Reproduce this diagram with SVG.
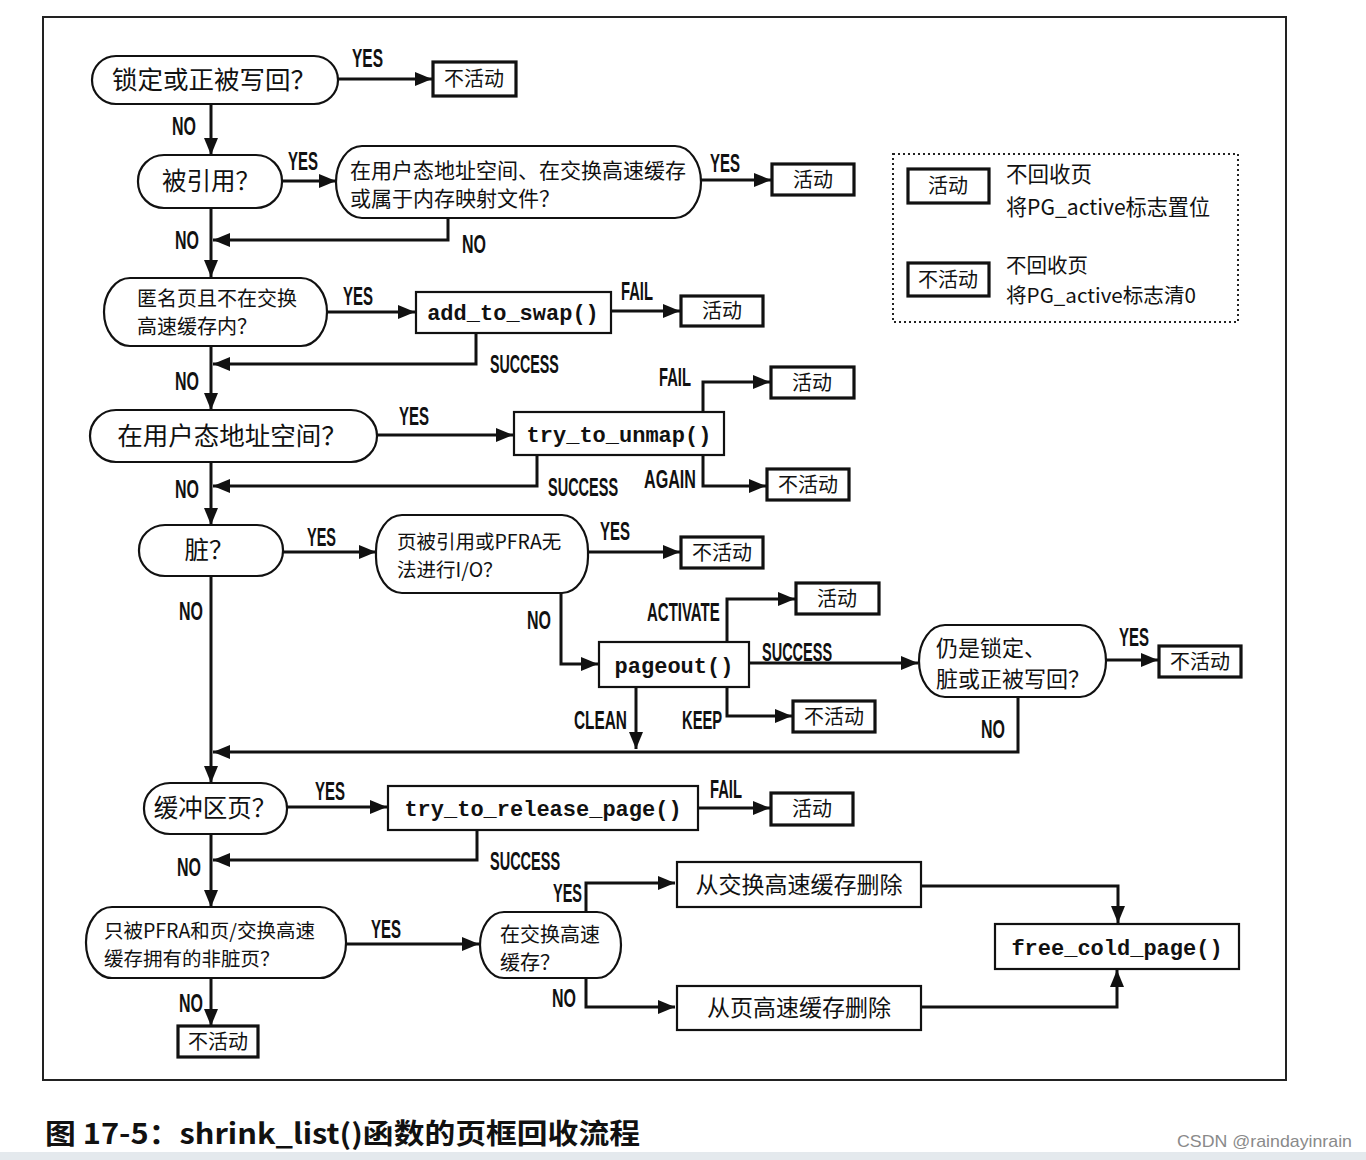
<svg xmlns="http://www.w3.org/2000/svg" width="1366" height="1160" viewBox="0 0 1366 1160">
<defs>
<marker id="ah" markerUnits="userSpaceOnUse" markerWidth="18" markerHeight="14" refX="17" refY="7" orient="auto">
<path d="M0,0 L17,7 L0,14 z" fill="#111"/>
</marker>
<style>
.st{fill:#fff;stroke:#111;stroke-width:2.2}
.cb{fill:#fff;stroke:#111;stroke-width:2.2}
.rb{fill:#fff;stroke:#111;stroke-width:3.2}
.c{fill:none;stroke:#111;stroke-width:3}
.a{marker-end:url(#ah)}
.zh{font-family:"Noto Sans CJK SC","Liberation Sans",sans-serif;fill:#111}
.z24{font-size:24.5px}
.z20{font-size:20px}
.z22{font-size:22px}
.m{font-family:"Liberation Mono","DejaVu Sans Mono",monospace;font-weight:bold;font-size:22px;fill:#111;text-anchor:middle}
.lb{font-family:"Liberation Sans",Arial,sans-serif;font-weight:bold;font-size:25px;fill:#111}
.mid{text-anchor:middle}
</style>
</defs>
<rect width="1366" height="1160" fill="#fff"/>
<rect x="43" y="17" width="1243" height="1063" fill="none" stroke="#222" stroke-width="2"/>

<g id="connectors">
<line class="c a" x1="338" y1="79" x2="432" y2="79"/>
<line class="c a" x1="211" y1="104" x2="211" y2="155"/>
<line class="c a" x1="282" y1="181" x2="336" y2="181"/>
<line class="c a" x1="701" y1="180" x2="771" y2="180"/>
<path class="c a" d="M448,218 V240 H213"/>
<line class="c a" x1="211" y1="208" x2="211" y2="277"/>
<line class="c a" x1="327" y1="312" x2="415" y2="312"/>
<line class="c a" x1="611" y1="311" x2="680" y2="311"/>
<path class="c a" d="M476,333 V364 H213"/>
<line class="c a" x1="211" y1="346" x2="211" y2="410"/>
<line class="c a" x1="377" y1="435" x2="513" y2="435"/>
<path class="c a" d="M703,412 V382 H770"/>
<path class="c a" d="M703,455 V486 H766"/>
<path class="c a" d="M537,455 V486 H213"/>
<line class="c a" x1="211" y1="462" x2="211" y2="525"/>
<line class="c a" x1="283" y1="552" x2="376" y2="552"/>
<line class="c a" x1="588" y1="552" x2="680" y2="552"/>
<path class="c a" d="M561,593 V664 H598"/>
<path class="c a" d="M727,642 V599 H795"/>
<line class="c a" x1="749" y1="663" x2="918" y2="663"/>
<line class="c a" x1="1106" y1="660" x2="1158" y2="660"/>
<path class="c a" d="M727,687 V716 H792"/>
<line class="c a" x1="636" y1="687" x2="636" y2="749"/>
<path class="c a" d="M1018,697 V752 H213"/>
<line class="c a" x1="211" y1="576" x2="211" y2="783"/>
<line class="c a" x1="287" y1="807" x2="387" y2="807"/>
<line class="c a" x1="698" y1="808" x2="770" y2="808"/>
<path class="c a" d="M477,830 V860 H213"/>
<line class="c a" x1="211" y1="834" x2="211" y2="907"/>
<line class="c a" x1="346" y1="944" x2="479" y2="944"/>
<path class="c a" d="M586,912 V883 H675"/>
<path class="c a" d="M586,978 V1007 H675"/>
<path class="c a" d="M921,886 H1118 V923"/>
<path class="c a" d="M921,1007 H1117 V970"/>
<line class="c a" x1="211" y1="978" x2="211" y2="1026"/>
</g>

<g id="labels">
<text class="lb" transform="translate(352,67) scale(0.62,1)">YES</text>
<text class="lb" transform="translate(172,135) scale(0.64,1)">NO</text>
<text class="lb" transform="translate(288,170) scale(0.6,1)">YES</text>
<text class="lb" transform="translate(710,172) scale(0.6,1)">YES</text>
<text class="lb" transform="translate(462,253) scale(0.64,1)">NO</text>
<text class="lb" transform="translate(175,249) scale(0.64,1)">NO</text>
<text class="lb" transform="translate(343,305) scale(0.6,1)">YES</text>
<text class="lb" transform="translate(621,300) scale(0.59,1)">FAIL</text>
<text class="lb" transform="translate(490,373) scale(0.57,1)">SUCCESS</text>
<text class="lb" transform="translate(175,390) scale(0.64,1)">NO</text>
<text class="lb" transform="translate(399,425) scale(0.6,1)">YES</text>
<text class="lb" transform="translate(659,386) scale(0.59,1)">FAIL</text>
<text class="lb" transform="translate(644,488) scale(0.645,1)">AGAIN</text>
<text class="lb" transform="translate(548,496) scale(0.58,1)">SUCCESS</text>
<text class="lb" transform="translate(175,498) scale(0.64,1)">NO</text>
<text class="lb" transform="translate(307,546) scale(0.58,1)">YES</text>
<text class="lb" transform="translate(600,540) scale(0.6,1)">YES</text>
<text class="lb" transform="translate(179,620) scale(0.64,1)">NO</text>
<text class="lb" transform="translate(527,629) scale(0.64,1)">NO</text>
<text class="lb" transform="translate(647,621) scale(0.6,1)">ACTIVATE</text>
<text class="lb" transform="translate(762,661) scale(0.58,1)">SUCCESS</text>
<text class="lb" transform="translate(1119,646) scale(0.6,1)">YES</text>
<text class="lb" transform="translate(574,729) scale(0.615,1)">CLEAN</text>
<text class="lb" transform="translate(682,729) scale(0.59,1)">KEEP</text>
<text class="lb" transform="translate(981,738) scale(0.64,1)">NO</text>
<text class="lb" transform="translate(315,800) scale(0.6,1)">YES</text>
<text class="lb" transform="translate(710,798) scale(0.59,1)">FAIL</text>
<text class="lb" transform="translate(490,870) scale(0.58,1)">SUCCESS</text>
<text class="lb" transform="translate(177,876) scale(0.64,1)">NO</text>
<text class="lb" transform="translate(371,938) scale(0.6,1)">YES</text>
<text class="lb" transform="translate(553,902) scale(0.58,1)">YES</text>
<text class="lb" transform="translate(552,1007) scale(0.64,1)">NO</text>
<text class="lb" transform="translate(179,1012) scale(0.64,1)">NO</text>
</g>

<g id="n-locked">
<rect class="st" x="92" y="56" width="246" height="48" rx="24" ry="24"/>
<text class="zh mid" font-size="25.5" x="214" y="89">锁定或正被写回？</text>
</g>
<g id="r-inactive1">
<rect class="rb" x="433" y="62" width="83" height="34"/>
<text class="zh z20 mid" x="474" y="86">不活动</text>
</g>
<g id="n-referenced">
<rect class="st" x="138" y="155" width="144" height="53" rx="26" ry="26"/>
<text class="zh z24 mid" x="211" y="190">被引用？</text>
</g>
<g id="n-useraddr">
<rect class="st" x="336" y="146" width="365" height="72" rx="26" ry="36"/>
<text class="zh" font-size="21" x="350" y="178">在用户态地址空间、在交换高速缓存</text>
<text class="zh" font-size="21" x="350" y="206">或属于内存映射文件？</text>
</g>
<g id="r-active1">
<rect class="rb" x="772" y="164" width="82" height="31"/>
<text class="zh z20 mid" x="813" y="187">活动</text>
</g>
<g id="n-anon">
<rect class="st" x="104" y="278" width="223" height="68" rx="26" ry="34"/>
<text class="zh z20" x="137" y="306">匿名页且不在交换</text>
<text class="zh z20" x="137" y="334">高速缓存内？</text>
</g>
<g id="n-addswap">
<rect class="cb" x="416" y="292" width="195" height="41"/>
<text class="m" x="513" y="320">add_to_swap()</text>
</g>
<g id="r-active2">
<rect class="rb" x="681" y="296" width="82" height="30"/>
<text class="zh z20 mid" x="722" y="318">活动</text>
</g>
<g id="n-inuser">
<rect class="st" x="90" y="410" width="287" height="52" rx="26" ry="26"/>
<text class="zh mid" font-size="25.5" x="232" y="445">在用户态地址空间？</text>
</g>
<g id="n-unmap">
<rect class="cb" x="514" y="412" width="210" height="43"/>
<text class="m" x="619" y="442">try_to_unmap()</text>
</g>
<g id="r-active3">
<rect class="rb" x="771" y="367" width="83" height="31"/>
<text class="zh z20 mid" x="812" y="390">活动</text>
</g>
<g id="r-inactive2">
<rect class="rb" x="767" y="469" width="82" height="31"/>
<text class="zh z20 mid" x="808" y="492">不活动</text>
</g>
<g id="n-dirty">
<rect class="st" x="139" y="525" width="144" height="51" rx="26" ry="25"/>
<text class="zh z24 mid" x="209" y="559">脏？</text>
</g>
<g id="n-pfra">
<rect class="st" x="376" y="515" width="212" height="78" rx="26" ry="36"/>
<text class="zh" font-size="19.5" x="397" y="549">页被引用或PFRA无</text>
<text class="zh" font-size="19.5" x="397" y="577">法进行I/O？</text>
</g>
<g id="r-inactive3">
<rect class="rb" x="681" y="537" width="82" height="31"/>
<text class="zh z20 mid" x="722" y="560">不活动</text>
</g>
<g id="n-pageout">
<rect class="cb" x="599" y="642" width="150" height="45"/>
<text class="m" x="674" y="673">pageout()</text>
</g>
<g id="r-active4">
<rect class="rb" x="796" y="583" width="83" height="31"/>
<text class="zh z20 mid" x="837" y="606">活动</text>
</g>
<g id="r-inactive4">
<rect class="rb" x="793" y="701" width="82" height="31"/>
<text class="zh z20 mid" x="834" y="724">不活动</text>
</g>
<g id="n-still">
<rect class="st" x="919" y="625" width="187" height="72" rx="26" ry="36"/>
<text class="zh z22" x="936" y="656">仍是锁定、</text>
<text class="zh z22" x="936" y="687">脏或正被写回？</text>
</g>
<g id="r-inactive5">
<rect class="rb" x="1159" y="646" width="82" height="31"/>
<text class="zh z20 mid" x="1200" y="669">不活动</text>
</g>
<g id="n-buffer">
<rect class="st" x="144" y="783" width="143" height="51" rx="26" ry="25"/>
<text class="zh z24 mid" x="215" y="817">缓冲区页？</text>
</g>
<g id="n-release">
<rect class="cb" x="388" y="786" width="310" height="44"/>
<text class="m" x="543" y="816">try_to_release_page()</text>
</g>
<g id="r-active5">
<rect class="rb" x="771" y="793" width="82" height="32"/>
<text class="zh z20 mid" x="812" y="816">活动</text>
</g>
<g id="n-onlypfra">
<rect class="st" x="86" y="907" width="260" height="71" rx="26" ry="35"/>
<text class="zh" font-size="19.5" x="104" y="938">只被PFRA和页/交换高速</text>
<text class="zh" font-size="19.5" x="104" y="966">缓存拥有的非脏页？</text>
</g>
<g id="n-inswap">
<rect class="st" x="480" y="912" width="141" height="66" rx="24" ry="33"/>
<text class="zh z20" x="500" y="942">在交换高速</text>
<text class="zh z20" x="500" y="970">缓存？</text>
</g>
<g id="n-delswap">
<rect class="cb" x="677" y="862" width="244" height="45"/>
<text class="zh mid" font-size="23" x="799" y="893">从交换高速缓存删除</text>
</g>
<g id="n-delpage">
<rect class="cb" x="677" y="986" width="244" height="44"/>
<text class="zh mid" font-size="23" x="799" y="1016">从页高速缓存删除</text>
</g>
<g id="n-free">
<rect class="cb" x="995" y="924" width="244" height="45"/>
<text class="m" x="1117" y="955">free_cold_page()</text>
</g>
<g id="r-inactive6">
<rect class="rb" x="178" y="1026" width="80" height="31"/>
<text class="zh z20 mid" x="218" y="1049">不活动</text>
</g>

<g id="legend">
<rect x="893" y="154" width="345" height="168" fill="none" stroke="#222" stroke-width="2" stroke-dasharray="2,3"/>
<rect class="rb" x="908" y="169" width="81" height="34"/>
<text class="zh z20 mid" x="948" y="193">活动</text>
<text class="zh" font-size="21.5" x="1006" y="182">不回收页</text>
<text class="zh" font-size="21.5" x="1006" y="215" textLength="204" lengthAdjust="spacingAndGlyphs">将PG_active标志置位</text>
<rect class="rb" x="908" y="263" width="81" height="33"/>
<text class="zh z20 mid" x="948" y="287">不活动</text>
<text class="zh" font-size="20.5" x="1006" y="273">不回收页</text>
<text class="zh" font-size="20.5" x="1006" y="303" textLength="190" lengthAdjust="spacingAndGlyphs">将PG_active标志清0</text>
</g>

<g id="caption">
<text class="zh" font-size="28" font-weight="bold" x="45" y="1144" textLength="595" lengthAdjust="spacingAndGlyphs">图 17-5：shrink_list()函数的页框回收流程</text>
<text font-family="Liberation Sans, Arial, sans-serif" font-size="17" fill="#8a8a8a" x="1177" y="1147" textLength="175" lengthAdjust="spacingAndGlyphs">CSDN @raindayinrain</text>
</g>
<rect x="0" y="1152" width="1366" height="8" fill="#e4e9ed"/>
</svg>
